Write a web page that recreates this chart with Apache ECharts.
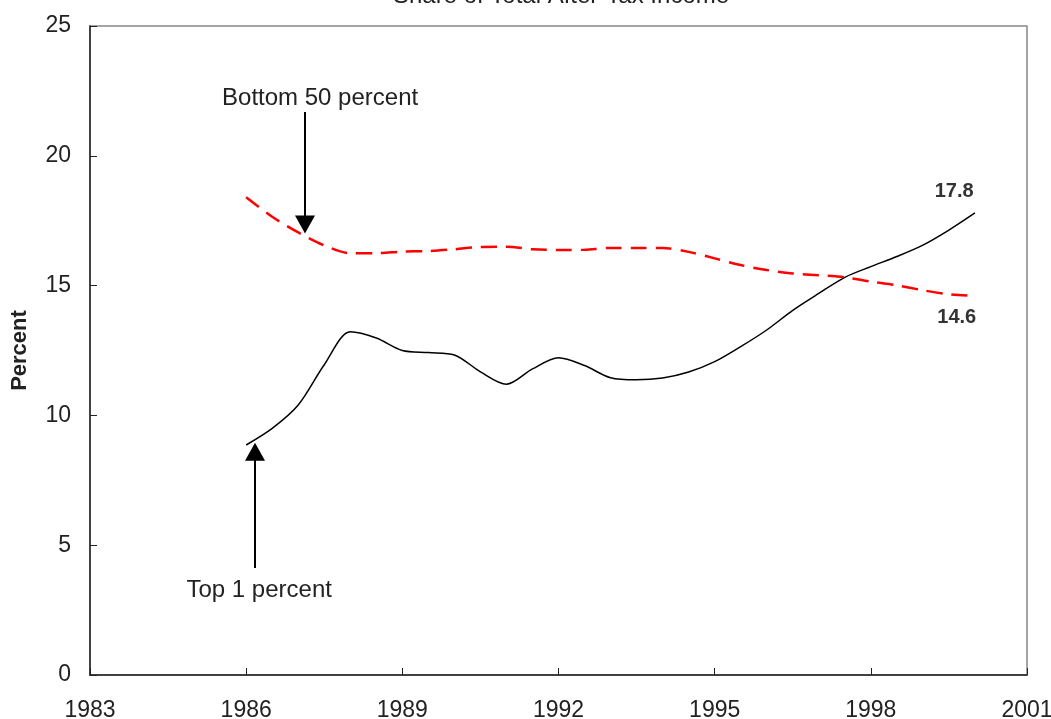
<!DOCTYPE html>
<html>
<head>
<meta charset="utf-8">
<script src="https://cdn.jsdelivr.net/npm/echarts@6/dist/echarts.min.js"></script>
<style>
  html, body { margin: 0; padding: 0; background: #fff; }
  #chart { width: 1051px; height: 719px; }
</style>
</head>
<body>
<div id="chart"></div>
<script>
// years (half-year steps)
const years = [1986, 1986.5, 1987, 1987.5, 1988, 1988.5, 1989, 1989.5, 1990, 1990.5,
  1991, 1991.5, 1992, 1992.5, 1993, 1993.5, 1994, 1994.5, 1995, 1995.5,
  1996, 1996.5, 1997, 1997.5, 1998, 1998.5, 1999, 1999.5, 2000];

const top1 = [8.86, 9.5, 10.4, 11.95, 13.22, 12.98, 12.5, 12.42, 12.33, 11.68,
  11.2, 11.79, 12.22, 11.92, 11.45, 11.37, 11.44, 11.67, 12.07, 12.65,
  13.29, 14.05, 14.7, 15.32, 15.73, 16.12, 16.56, 17.14, 17.8];

const bottom50 = [18.4, 17.65, 17.05, 16.55, 16.25, 16.25, 16.31, 16.33, 16.4, 16.49,
  16.5, 16.4, 16.37, 16.38, 16.45, 16.45, 16.45, 16.3, 16.05, 15.79,
  15.6, 15.47, 15.4, 15.32, 15.15, 15.01, 14.82, 14.67, 14.6];

const font = 'Arial, "Liberation Sans", sans-serif';

const chart = echarts.init(document.getElementById('chart'));

const pair = (arr) => years.map((y, i) => [y, arr[i]]);

// text annotations, placed in data space
function note(text, x, y, size, bold) {
  return {
    coord: [x, y],
    symbol: 'circle',
    symbolSize: 0,
    itemStyle: { color: 'transparent' },
    label: {
      show: true,
      formatter: text,
      color: bold ? '#333' : '#222',
      fontFamily: font,
      fontSize: size,
      fontWeight: bold ? 'bold' : 'normal',
      position: 'inside'
    }
  };
}

chart.setOption({
  animation: false,
  title: {
    text: 'Share of Total After-Tax Income',
    left: 556,
    textAlign: 'center',
    top: -21,
    textStyle: { fontFamily: font, fontSize: 24, fontWeight: 'normal', color: '#222' }
  },
  grid: {
    left: 90,
    right: 24,
    top: 26,
    bottom: 44,
    outerBoundsMode: 'none',
    containLabel: false,
    show: true,
    borderColor: '#888',
    borderWidth: 1.5
  },
  xAxis: {
    type: 'value',
    min: 1983,
    max: 2001,
    interval: 3,
    axisLine: { lineStyle: { color: '#222', width: 1.5 } },
    axisTick: { inside: true, length: 7, lineStyle: { color: '#222' } },
    axisLabel: { margin: 24, color: '#222', fontFamily: font, fontSize: 23,
      formatter: (v) => String(v) },
    splitLine: { show: false }
  },
  yAxis: {
    type: 'value',
    min: 0,
    max: 25,
    interval: 5,
    name: 'Percent',
    nameLocation: 'middle',
    nameGap: 59,
    nameTextStyle: { fontFamily: font, fontSize: 22, fontWeight: 'bold', color: '#222' },
    axisLine: { show: true, lineStyle: { color: '#222', width: 1.5 } },
    axisTick: { show: true, inside: true, length: 7, lineStyle: { color: '#222' } },
    axisLabel: { margin: 19, color: '#222', fontFamily: font, fontSize: 23 },
    splitLine: { show: false }
  },
  series: [
    {
      name: 'Top 1 percent',
      type: 'line',
      data: pair(top1),
      smooth: 0.3,
      showSymbol: false,
      lineStyle: { color: '#000', width: 1.5 },
      markLine: {
        silent: true,
        symbol: ['none', 'triangle'],
        symbolSize: [20, 18],
        label: { show: false },
        lineStyle: { color: '#000', width: 2, type: 'solid' },
        data: [[{ coord: [1986.17, 4.12] }, { coord: [1986.17, 8.6] }]]
      },
      markPoint: {
        silent: true,
        data: [
          note('Top 1 percent', 1986.25, 3.27, 24, false),
          note('17.8', 1999.6, 18.63, 20, true)
        ]
      }
    },
    {
      name: 'Bottom 50 percent',
      type: 'line',
      data: pair(bottom50),
      smooth: 0.3,
      showSymbol: false,
      lineStyle: { color: '#ff0000', width: 2.5, type: [16, 9] },
      markLine: {
        silent: true,
        symbol: ['none', 'triangle'],
        symbolSize: [20, 18],
        label: { show: false },
        lineStyle: { color: '#000', width: 2, type: 'solid' },
        data: [[{ coord: [1987.13, 21.69] }, { coord: [1987.13, 17.35] }]]
      },
      markPoint: {
        silent: true,
        data: [
          note('Bottom 50 percent', 1987.42, 22.2, 24, false),
          note('14.6', 1999.65, 13.77, 20, true)
        ]
      }
    }
  ]
});
</script>
</body>
</html>
